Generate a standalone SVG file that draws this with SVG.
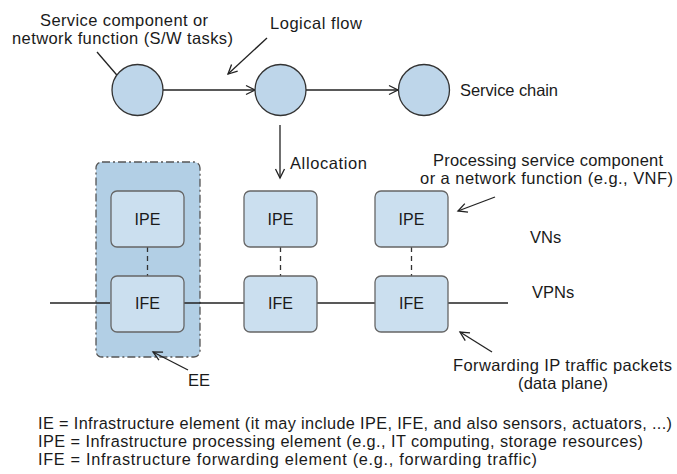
<svg xmlns="http://www.w3.org/2000/svg" width="677" height="474" viewBox="0 0 677 474">
<style>
text{font-family:"Liberation Sans",Arial,sans-serif;font-size:16.5px;fill:#1a1a1a}
.c{fill:#bed6ea;stroke:#333;stroke-width:1.3}
.b{fill:#cbdfef;stroke:#666;stroke-width:1.3}
.ln{stroke:#222;stroke-width:1.3;fill:none}
.dl{stroke:#333;stroke-width:1.3;stroke-dasharray:5,4;fill:none}
.lg{font-size:16.3px}
.bx{font-size:16px}
</style>
<defs>
<marker id="a" markerWidth="12" markerHeight="12" refX="10" refY="5" orient="auto" markerUnits="userSpaceOnUse" viewBox="0 0 12 10">
<path d="M1,0.5 L10,5 L1,9.5" fill="none" stroke="#222" stroke-width="1.3"/>
</marker>
</defs>
<rect width="677" height="474" fill="#fff"/>
<g id="ee">
<rect x="96" y="162" width="104" height="195" rx="6" fill="#b2cfe5" stroke="#555" stroke-width="1.3" stroke-dasharray="8,3,2,3"/>
</g>
<g id="connectors">
<line class="ln" x1="163" y1="90" x2="255" y2="90" marker-end="url(#a)"/>
<line class="ln" x1="306" y1="90" x2="398" y2="90" marker-end="url(#a)"/>
<line class="ln" x1="280" y1="125" x2="280" y2="178" marker-end="url(#a)"/>
<line class="ln" x1="50" y1="303" x2="110" y2="303"/>
<line class="ln" x1="184" y1="303" x2="244" y2="303"/>
<line class="ln" x1="317" y1="303" x2="375" y2="303"/>
<line class="ln" x1="448" y1="303" x2="508" y2="303"/>
<line class="dl" x1="147.5" y1="247" x2="147.5" y2="276"/>
<line class="dl" x1="280.5" y1="247" x2="280.5" y2="276"/>
<line class="dl" x1="411.5" y1="247" x2="411.5" y2="276"/>
<line class="ln" x1="97" y1="52" x2="128" y2="88" marker-end="url(#a)"/>
<line class="ln" x1="267" y1="38" x2="228" y2="74" marker-end="url(#a)"/>
<line class="ln" x1="495" y1="197" x2="458" y2="211" marker-end="url(#a)"/>
<line class="ln" x1="492" y1="352" x2="460" y2="332" marker-end="url(#a)"/>
<line class="ln" x1="188" y1="370" x2="153" y2="352" marker-end="url(#a)"/>
</g>
<g id="sc1"><circle class="c" cx="137.5" cy="90" r="25.5"/></g>
<g id="sc2"><circle class="c" cx="280.5" cy="90" r="25.5"/></g>
<g id="sc3"><circle class="c" cx="424" cy="90" r="25.5"/></g>
<g id="ipe1"><rect class="b" x="111" y="191" width="73" height="56" rx="6"/><text class="bx" x="147.5" y="225" text-anchor="middle">IPE</text></g>
<g id="ife1"><rect class="b" x="111" y="276" width="73" height="56" rx="6"/><text class="bx" x="147.5" y="309" text-anchor="middle">IFE</text></g>
<g id="ipe2"><rect class="b" x="244" y="191" width="73" height="56" rx="6"/><text class="bx" x="280.5" y="225" text-anchor="middle">IPE</text></g>
<g id="ife2"><rect class="b" x="244" y="276" width="73" height="56" rx="6"/><text class="bx" x="280.5" y="309" text-anchor="middle">IFE</text></g>
<g id="ipe3"><rect class="b" x="375" y="191" width="73" height="56" rx="6"/><text class="bx" x="411.5" y="225" text-anchor="middle">IPE</text></g>
<g id="ife3"><rect class="b" x="375" y="276" width="73" height="56" rx="6"/><text class="bx" x="411.5" y="309" text-anchor="middle">IFE</text></g>
<g id="labels">
<text x="40" y="26" textLength="168">Service component or</text>
<text x="12" y="44" textLength="221">network function (S/W tasks)</text>
<text x="270" y="29" textLength="92">Logical flow</text>
<text x="460" y="96" textLength="98">Service chain</text>
<text x="290" y="169" textLength="77">Allocation</text>
<text x="433" y="166" textLength="230">Processing service component</text>
<text x="420" y="184" textLength="253">or a network function (e.g., VNF)</text>
<text x="530" y="243">VNs</text>
<text x="532" y="298">VPNs</text>
<text x="453" y="371" textLength="219">Forwarding IP traffic packets</text>
<text x="518" y="389" textLength="90">(data plane)</text>
<text x="188" y="386">EE</text>
<text class="lg" x="38" y="429" textLength="634">IE = Infrastructure element (it may include IPE, IFE, and also sensors, actuators, ...)</text>
<text class="lg" x="38" y="447" textLength="605">IPE = Infrastructure processing element (e.g., IT computing, storage resources)</text>
<text class="lg" x="38" y="465" textLength="499">IFE = Infrastructure forwarding element (e.g., forwarding traffic)</text>
</g>
</svg>
